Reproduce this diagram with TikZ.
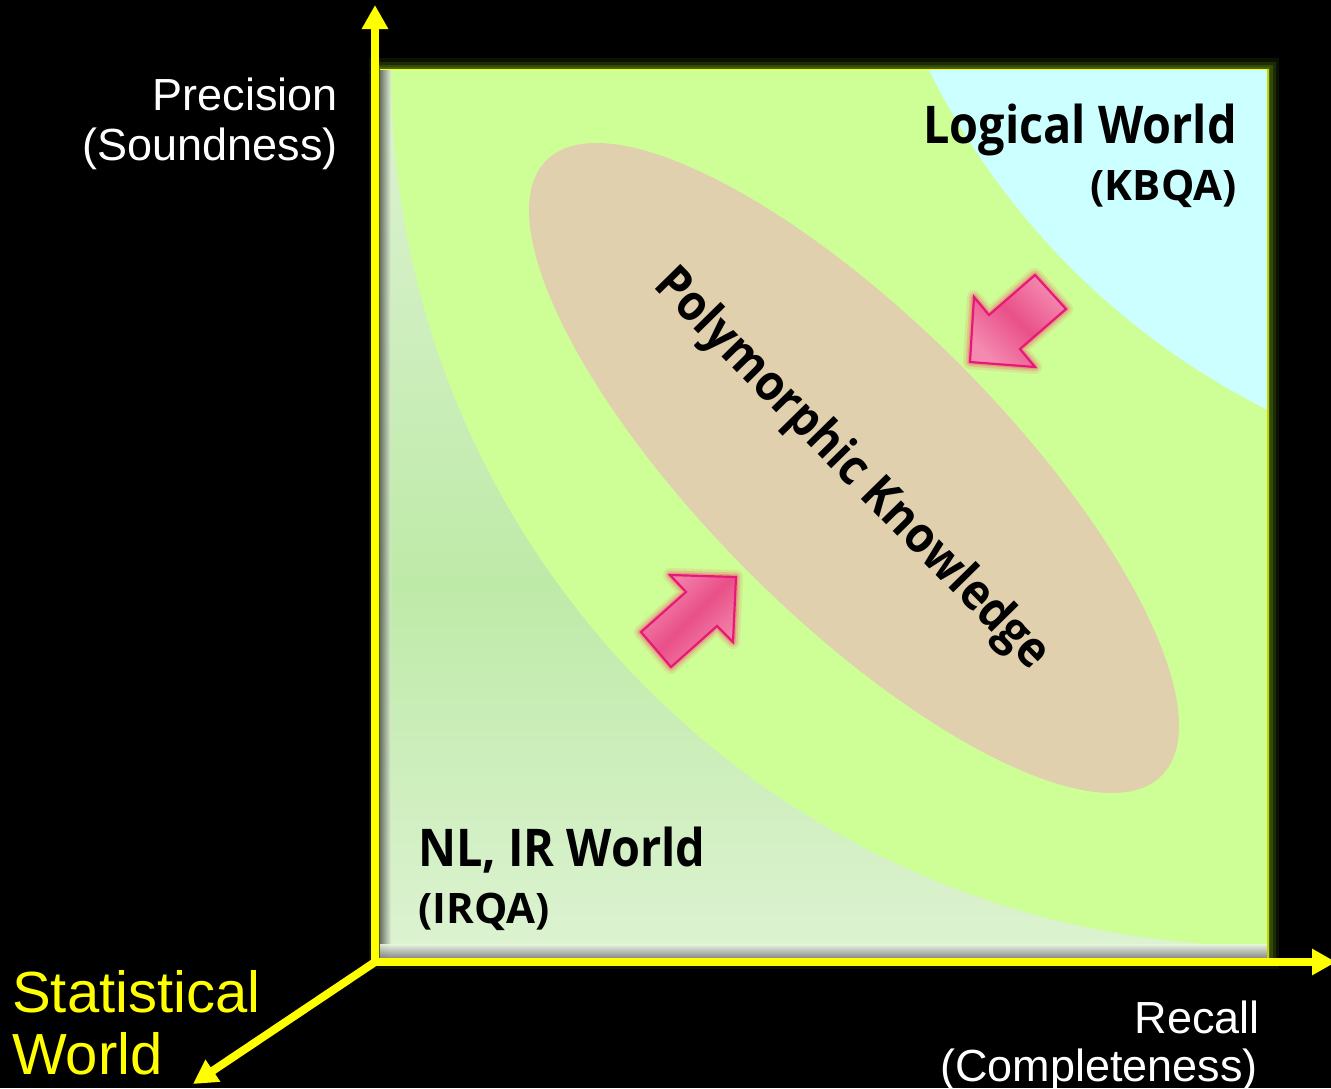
\documentclass[tikz,border=0pt]{standalone}
\usepackage{fontspec}
\setmainfont{Liberation Sans}
\newfontfamily\headfont[FakeStretch=0.9]{Open Sans}
\newfontfamily\subfont{Open Sans}
\usetikzlibrary{arrows.meta}

\definecolor{axisyellow}{RGB}{255,255,0}
\definecolor{midgreen}{RGB}{206,255,150}
\definecolor{kbblue}{RGB}{204,255,255}
\definecolor{polytan}{RGB}{224,208,174}
\definecolor{irtop}{RGB}{222,242,212}
\definecolor{irmid}{RGB}{190,234,168}
\definecolor{irbot}{RGB}{233,246,226}
\definecolor{haloolive}{RGB}{70,105,15}
\definecolor{pinkbody}{RGB}{233,80,136}
\definecolor{pinklight}{RGB}{244,138,176}
\definecolor{pinkedge}{RGB}{230,24,120}
\definecolor{pinkglow}{RGB}{240,96,112}

\tikzset{
  axisline/.style={draw=axisyellow, line width=8pt,
    -{Triangle[length=24pt,width=25pt]}},
  axislabel/.style={text=white, inner sep=0pt, font=\fontsize{45}{54}\selectfont},
  statlabel/.style={text=axisyellow, inner sep=0pt, font=\fontsize{58}{66}\selectfont},
  worldlabel/.style={text=black, inner sep=0pt, font=\headfont\bfseries\fontsize{52}{60}\selectfont},
  sublabel/.style={text=black, inner sep=0pt, font=\subfont\bfseries\fontsize{42}{50}\selectfont},
  pushglow/.style={draw=pinkglow, line join=round},
  pusharrow/.style={draw=pinkedge, line width=2.2pt, line join=miter,
    left color=pinklight, right color=pinklight, middle color=pinkbody},
}

\begin{document}
\begin{tikzpicture}[x=1pt, y=-1pt]
  % canvas
  \fill[black] (0,0) rectangle (1331,1088);
  \useasboundingbox (0,0) rectangle (1331,1088);

  % olive halo around the plot square
  \foreach \w/\o in {22/0.18, 15/0.3, 9/0.5, 4/0.8}
    \draw[haloolive, line width=\w pt, opacity=\o] (380,69) rectangle (1268,958);

  % plot square regions
  \begin{scope}
    \clip (380,69) rectangle (1268,958);
    \shade[top color=irtop, bottom color=irbot, middle color=irmid]
      (380,69) rectangle (1268,1100);
    \fill[midgreen] (1268,69) circle [radius=877pt];
    \fill[kbblue] (1604,-264) circle [radius=753pt];
    % inner shadows along the left and bottom edges
    \shade[left color=black!45!gray, right color=irtop, opacity=0.8]
      (379,69) rectangle (391,958);
    \shade[top color=irbot, bottom color=gray, opacity=0.9]
      (380,944) rectangle (1268,958);
  \end{scope}
  \draw[axisyellow, line width=1.6pt] (380,69.5) -- (1268,69.5);
  \draw[axisyellow!70!haloolive, line width=1.6pt] (1268,69) -- (1268,958);

  % polymorphic knowledge ellipse
  \fill[polytan, rotate around={-45:(854,468)}]
    (854,468) ellipse [x radius=435pt, y radius=148pt];
  \node[rotate=-45.5, inner sep=0pt, text=black,
        font=\headfont\bfseries\fontsize{50}{58}\selectfont] (poly) at (851,470)
    {Polymorphic Knowledge};

  % region labels
  \node[worldlabel, anchor=base east] (logical) at (1237,143) {Logical World};
  \node[sublabel, anchor=base east] (kbqa) at (1237,200) {(KBQA)};
  \node[worldlabel, anchor=base west] (nlir) at (418,866) {NL, IR World};
  \node[sublabel, anchor=base west] (irqa) at (418,923) {(IRQA)};

  % block arrows pushing towards the ellipse
  \foreach \w/\o in {14/0.15, 9/0.25, 5/0.4} {
    \draw[pushglow, line width=\w pt, opacity=\o]
      (970,362) -- (974,297) -- (989,315) -- (1035,275) -- (1066,309)
      -- (1020,349) -- (1035,367) -- cycle;
    \draw[pushglow, line width=\w pt, opacity=\o]
      (736,577) -- (670,575) -- (686,592) -- (641,632) -- (671,667)
      -- (717,626) -- (733,642) -- cycle;
  }
  \draw[pusharrow, shading angle=135]
    (970,362) -- (974,297) -- (989,315) -- (1035,275) -- (1066,309)
    -- (1020,349) -- (1035,367) -- cycle;
  \draw[pusharrow, shading angle=45]
    (736,577) -- (670,575) -- (686,592) -- (641,632) -- (671,667)
    -- (717,626) -- (733,642) -- cycle;

  % axes
  \coordinate (origin) at (375,962);
  \coordinate (ytip) at (375,5);
  \coordinate (xtip) at (1336,962);
  \coordinate (ztip) at (193,1084);
  \draw[axisline] (origin) -- (ytip);
  \draw[axisline] (origin) -- (xtip);
  \draw[axisline] (origin) -- (ztip);

  % axis labels
  \node[axislabel, anchor=base east] (prec) at (338,110) {Precision};
  \node[axislabel, anchor=base east] (sound) at (338,160) {(Soundness)};
  \node[axislabel, anchor=base east] (recall) at (1260,1033) {Recall};
  \node[axislabel, anchor=base east] (complete) at (1258,1081) {(Completeness)};
  \node[statlabel, anchor=base west] (stat) at (12,1012) {Statistical};
  \node[statlabel, anchor=base west] (statworld) at (12,1074) {World};
\end{tikzpicture}
\end{document}
